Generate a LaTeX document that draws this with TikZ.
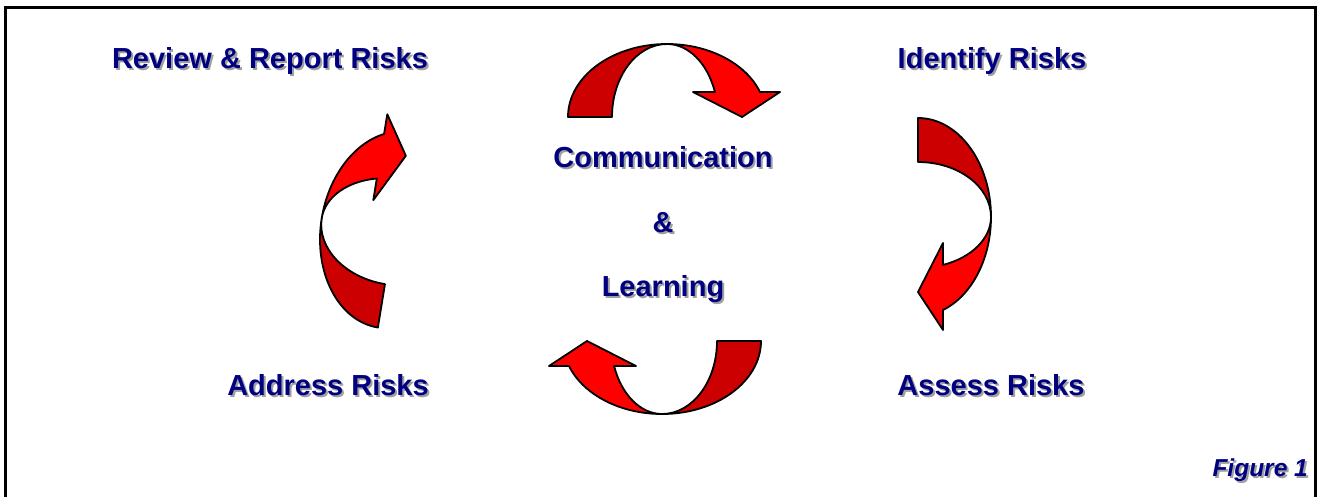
\documentclass[tikz,border=0pt]{standalone}
\usepackage{fontspec}
\setmainfont{Liberation Sans}
\definecolor{navytext}{RGB}{0,0,128}
\definecolor{shadowgray}{RGB}{160,160,160}
\definecolor{arrowdark}{RGB}{204,0,0}
\definecolor{arrowlight}{RGB}{255,0,0}
\tikzset{
  lbl/.style={anchor=base, inner sep=0pt, text=navytext, font=\fontsize{29}{32}\selectfont\bfseries},
  lblshadow/.style={lbl, text=shadowgray, xshift=2pt, yshift=-2pt},
  ribbon/.style={draw=black, line width=1.8pt, line join=round},
  % twisted curved arrow: tail on the left, apex on top, head on the right
  curvarrow/.pic={
    \path[ribbon, fill=arrowdark]
      (-99,0) .. controls (-99,-40.3) and (-54.7,-73) .. (0,-73)
      .. controls (-30.4,-73) and (-55,-40.3) .. (-55,0) -- cycle;
    \path[ribbon, fill=arrowlight]
      (0,-73) .. controls (41.6,-73) and (78.8,-53.8) .. (93,-25)
      -- (113,-25) -- (75,0) -- (26,-25) -- (47.9,-25)
      .. controls (40.6,-53.8) and (21.4,-73) .. (0,-73) -- cycle;
  }
}
\newcommand\risklabel[3]{%
  \node[lblshadow] at (#2) {#3};
  \node[lbl] (#1) at (#2) {#3};}
\begin{document}
\begin{tikzpicture}[x=1pt, y=-1pt]
\useasboundingbox (0,0) rectangle (1320,496);
% frame, open at the bottom edge
\draw[line width=2.7pt] (5.3,500) |- (1315.8,7.3) -- (1315.8,500);

% the four arrows of the cycle
\pic at (667,117) {curvarrow};
\pic[rotate=-90] at (918,217) {curvarrow};
\pic[rotate=180] at (662,341) {curvarrow};
\pic[rotate=80.75] at (393.8,229.8) {curvarrow};

% stage labels
\risklabel{review}{270,68}{Review \& Report Risks}
\risklabel{identify}{992,68}{Identify Risks}
\risklabel{assess}{991,395}{Assess Risks}
\risklabel{address}{328,395}{Address Risks}

% centre
\risklabel{comm}{663,167}{Communication}
\risklabel{amp}{663,232}{\&}
\risklabel{learn}{663,296}{Learning}

% caption
\node[lblshadow, anchor=base east, font=\fontsize{24.5}{28}\selectfont\bfseries\itshape] at (1308,476) {Figure 1};
\node[lbl, anchor=base east, font=\fontsize{24.5}{28}\selectfont\bfseries\itshape] (fig) at (1308,476) {Figure 1};
\end{tikzpicture}
\end{document}
